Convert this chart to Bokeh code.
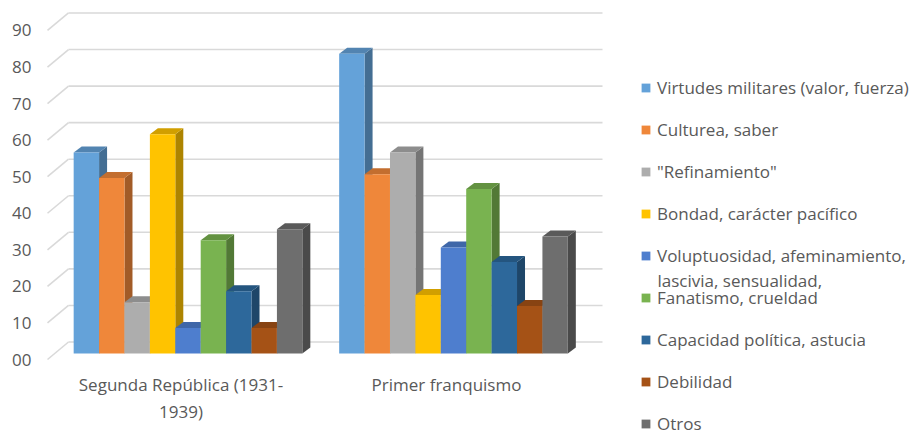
from bokeh.plotting import figure
from bokeh.layouts import row
from bokeh.models import Range1d, FixedTicker, Legend, LegendItem, Label
from bokeh.embed import file_html
from bokeh.resources import INLINE

# ---------------- data ----------------
groups = ["Segunda República (1931-\n1939)", "Primer franquismo"]
series = [
    "Virtudes militares (valor, fuerza)",
    "Culturea, saber",
    "\"Refinamiento\"",
    "Bondad, carácter pacífico",
    "Voluptuosidad, afeminamiento,\nlascivia, sensualidad,",
    "Fanatismo, crueldad",
    "Capacidad política, astucia",
    "Debilidad",
    "Otros",
]
values_republica = [55, 48, 14, 60, 7, 31, 17, 7, 34]
values_franquismo = [82, 49, 55, 16, 29, 45, 25, 13, 32]
y_ticks = [0, 10, 20, 30, 40, 50, 60, 70, 80, 90]
y_tick_labels = ["00", "10", "20", "30", "40", "50", "60", "70", "80", "90"]

colors = ["#64A2D9", "#EF873A", "#ADADAD", "#FFC300", "#4E7ECE",
          "#79B350", "#2D689B", "#A55216", "#6E6E6E"]

# ---------------- geometry (pixels -> data units) ----------------
PX_GROUP = 265.5      # pixels per category step
PX_UNIT = 3.656       # pixels per value unit
MAIN_W, H = 610, 435
FRAME_L, FRAME_B = 40, 365
ZERO_X, ZERO_Y = 180.5, 359   # pixel of (category 0, value 0) on the front plane
FONT = "Open Sans"
TXT = "#595959"


def gx(px):
    return px / PX_GROUP


def gy(px):
    return px / PX_UNIT


gap = 1.45
bw = 1.0 / (len(series) + gap)
plane_dx, plane_dy = gx(7), gy(6)     # bar front plane behind the axis plane
depth_dx, depth_dy = gx(8), gy(6)     # bar depth
wall_dx, wall_dy = gx(21), gy(17.5)   # back wall depth
wall_left = gx(47 - ZERO_X)
wall_right = gx(602 - ZERO_X)


def shade(hexcol, f):
    h = hexcol.lstrip("#")
    r, g, b = (int(h[i:i + 2], 16) for i in (0, 2, 4))
    return "#%02x%02x%02x" % (int(r * f), int(g * f), int(b * f))


p = figure(width=MAIN_W, height=H, output_backend="svg", toolbar_location=None,
           x_range=Range1d(gx(FRAME_L - ZERO_X), gx(MAIN_W - ZERO_X)),
           y_range=Range1d(gy(ZERO_Y - FRAME_B), gy(ZERO_Y)),
           min_border_left=FRAME_L, min_border_right=0, min_border_top=0,
           min_border_bottom=H - FRAME_B)
p.outline_line_color = None
p.xgrid.visible = False
p.ygrid.visible = False
p.background_fill_color = "white"
p.border_fill_color = "white"

# back wall gridlines + side diagonals
grid_col = "#D9D9D9"
n = len(y_ticks)
p.segment(x0=[wall_left + wall_dx] * n, x1=[wall_right] * n,
          y0=[v + wall_dy for v in y_ticks], y1=[v + wall_dy for v in y_ticks],
          line_color=grid_col, line_width=1.6)
p.segment(x0=[wall_left] * n, x1=[wall_left + wall_dx] * n,
          y0=y_ticks, y1=[v + wall_dy for v in y_ticks],
          line_color=grid_col, line_width=1.6)

# 3D-looking bars
all_values = [values_republica, values_franquismo]
for i, name in enumerate(series):
    lefts, rights, tops = [], [], []
    side_xs, side_ys, top_xs, top_ys = [], [], [], []
    for g, vals in enumerate(all_values):
        left = g + plane_dx + (i - len(series) / 2) * bw
        right = left + bw
        bottom = plane_dy
        top = vals[i] + plane_dy
        lefts.append(left); rights.append(right); tops.append(top)
        side_xs.append([right, right + depth_dx, right + depth_dx, right])
        side_ys.append([bottom, bottom + depth_dy, top + depth_dy, top])
        top_xs.append([left, right, right + depth_dx, left + depth_dx])
        top_ys.append([top, top, top + depth_dy, top + depth_dy])
    p.patches(side_xs, side_ys, fill_color=shade(colors[i], 0.68), line_color=None)
    p.patches(top_xs, top_ys, fill_color=shade(colors[i], 0.82), line_color=None)
    p.quad(left=lefts, right=rights, bottom=[plane_dy] * 2, top=tops,
           fill_color=colors[i], line_color=None)

# axes
p.yaxis.ticker = FixedTicker(ticks=y_ticks)
p.yaxis.major_label_overrides = {t: l for t, l in zip(y_ticks, y_tick_labels)}
p.xaxis.ticker = FixedTicker(ticks=list(range(len(groups))))
p.xaxis.major_label_overrides = {i: g for i, g in enumerate(groups)}
for ax in (p.xaxis[0], p.yaxis[0]):
    ax.axis_line_color = None
    ax.major_tick_line_color = None
    ax.minor_tick_line_color = None
    ax.major_tick_out = 0
    ax.major_tick_in = 0
    ax.major_label_text_font = FONT
    ax.major_label_text_font_size = "17px"
    ax.major_label_text_color = TXT
p.yaxis.major_label_standoff = 9
p.xaxis.major_label_standoff = 7

# ---------------- legend panel ----------------
LEG_W = 911 - MAIN_W
q = figure(width=LEG_W, height=H, output_backend="svg", toolbar_location=None,
           x_range=Range1d(0, 1), y_range=Range1d(0, 1),
           x_axis_type=None, y_axis_type=None,
           min_border=0, min_border_left=0, min_border_right=0,
           min_border_top=0, min_border_bottom=0)
q.outline_line_color = None
q.xgrid.visible = False
q.ygrid.visible = False
q.background_fill_color = "white"
q.border_fill_color = "white"

for fig in (p, q):
    if "frame_align" in fig.properties():
        fig.frame_align = False

items = []
for name, c in zip(series, colors):
    # legend swatch renderer (kept outside the visible range of this panel)
    r = q.quad(left=[2], right=[3], top=[3], bottom=[2], fill_color=c, line_color=None)
    items.append(LegendItem(label=name.split("\n")[0], renderers=[r]))

legend = Legend(items=items, location=(640 - MAIN_W, 0), orientation="vertical",
                glyph_width=11, glyph_height=11, label_height=24, spacing=18,
                label_standoff=6, padding=0, margin=0,
                border_line_color=None, background_fill_alpha=0,
                label_text_font=FONT, label_text_font_size="17px", label_text_color=TXT)
q.add_layout(legend)

for k, name in enumerate(series):
    for j, line in enumerate(name.split("\n")[1:]):
        q.add_layout(Label(x=657 - MAIN_W, y=H - 280 - 22 * j,
                           x_units="screen", y_units="screen", text=line,
                           text_font=FONT, text_font_size="17px", text_color=TXT,
                           text_baseline="middle"))

layout = row(p, q, spacing=0)
open("out.html", "w").write(file_html(layout, INLINE))
